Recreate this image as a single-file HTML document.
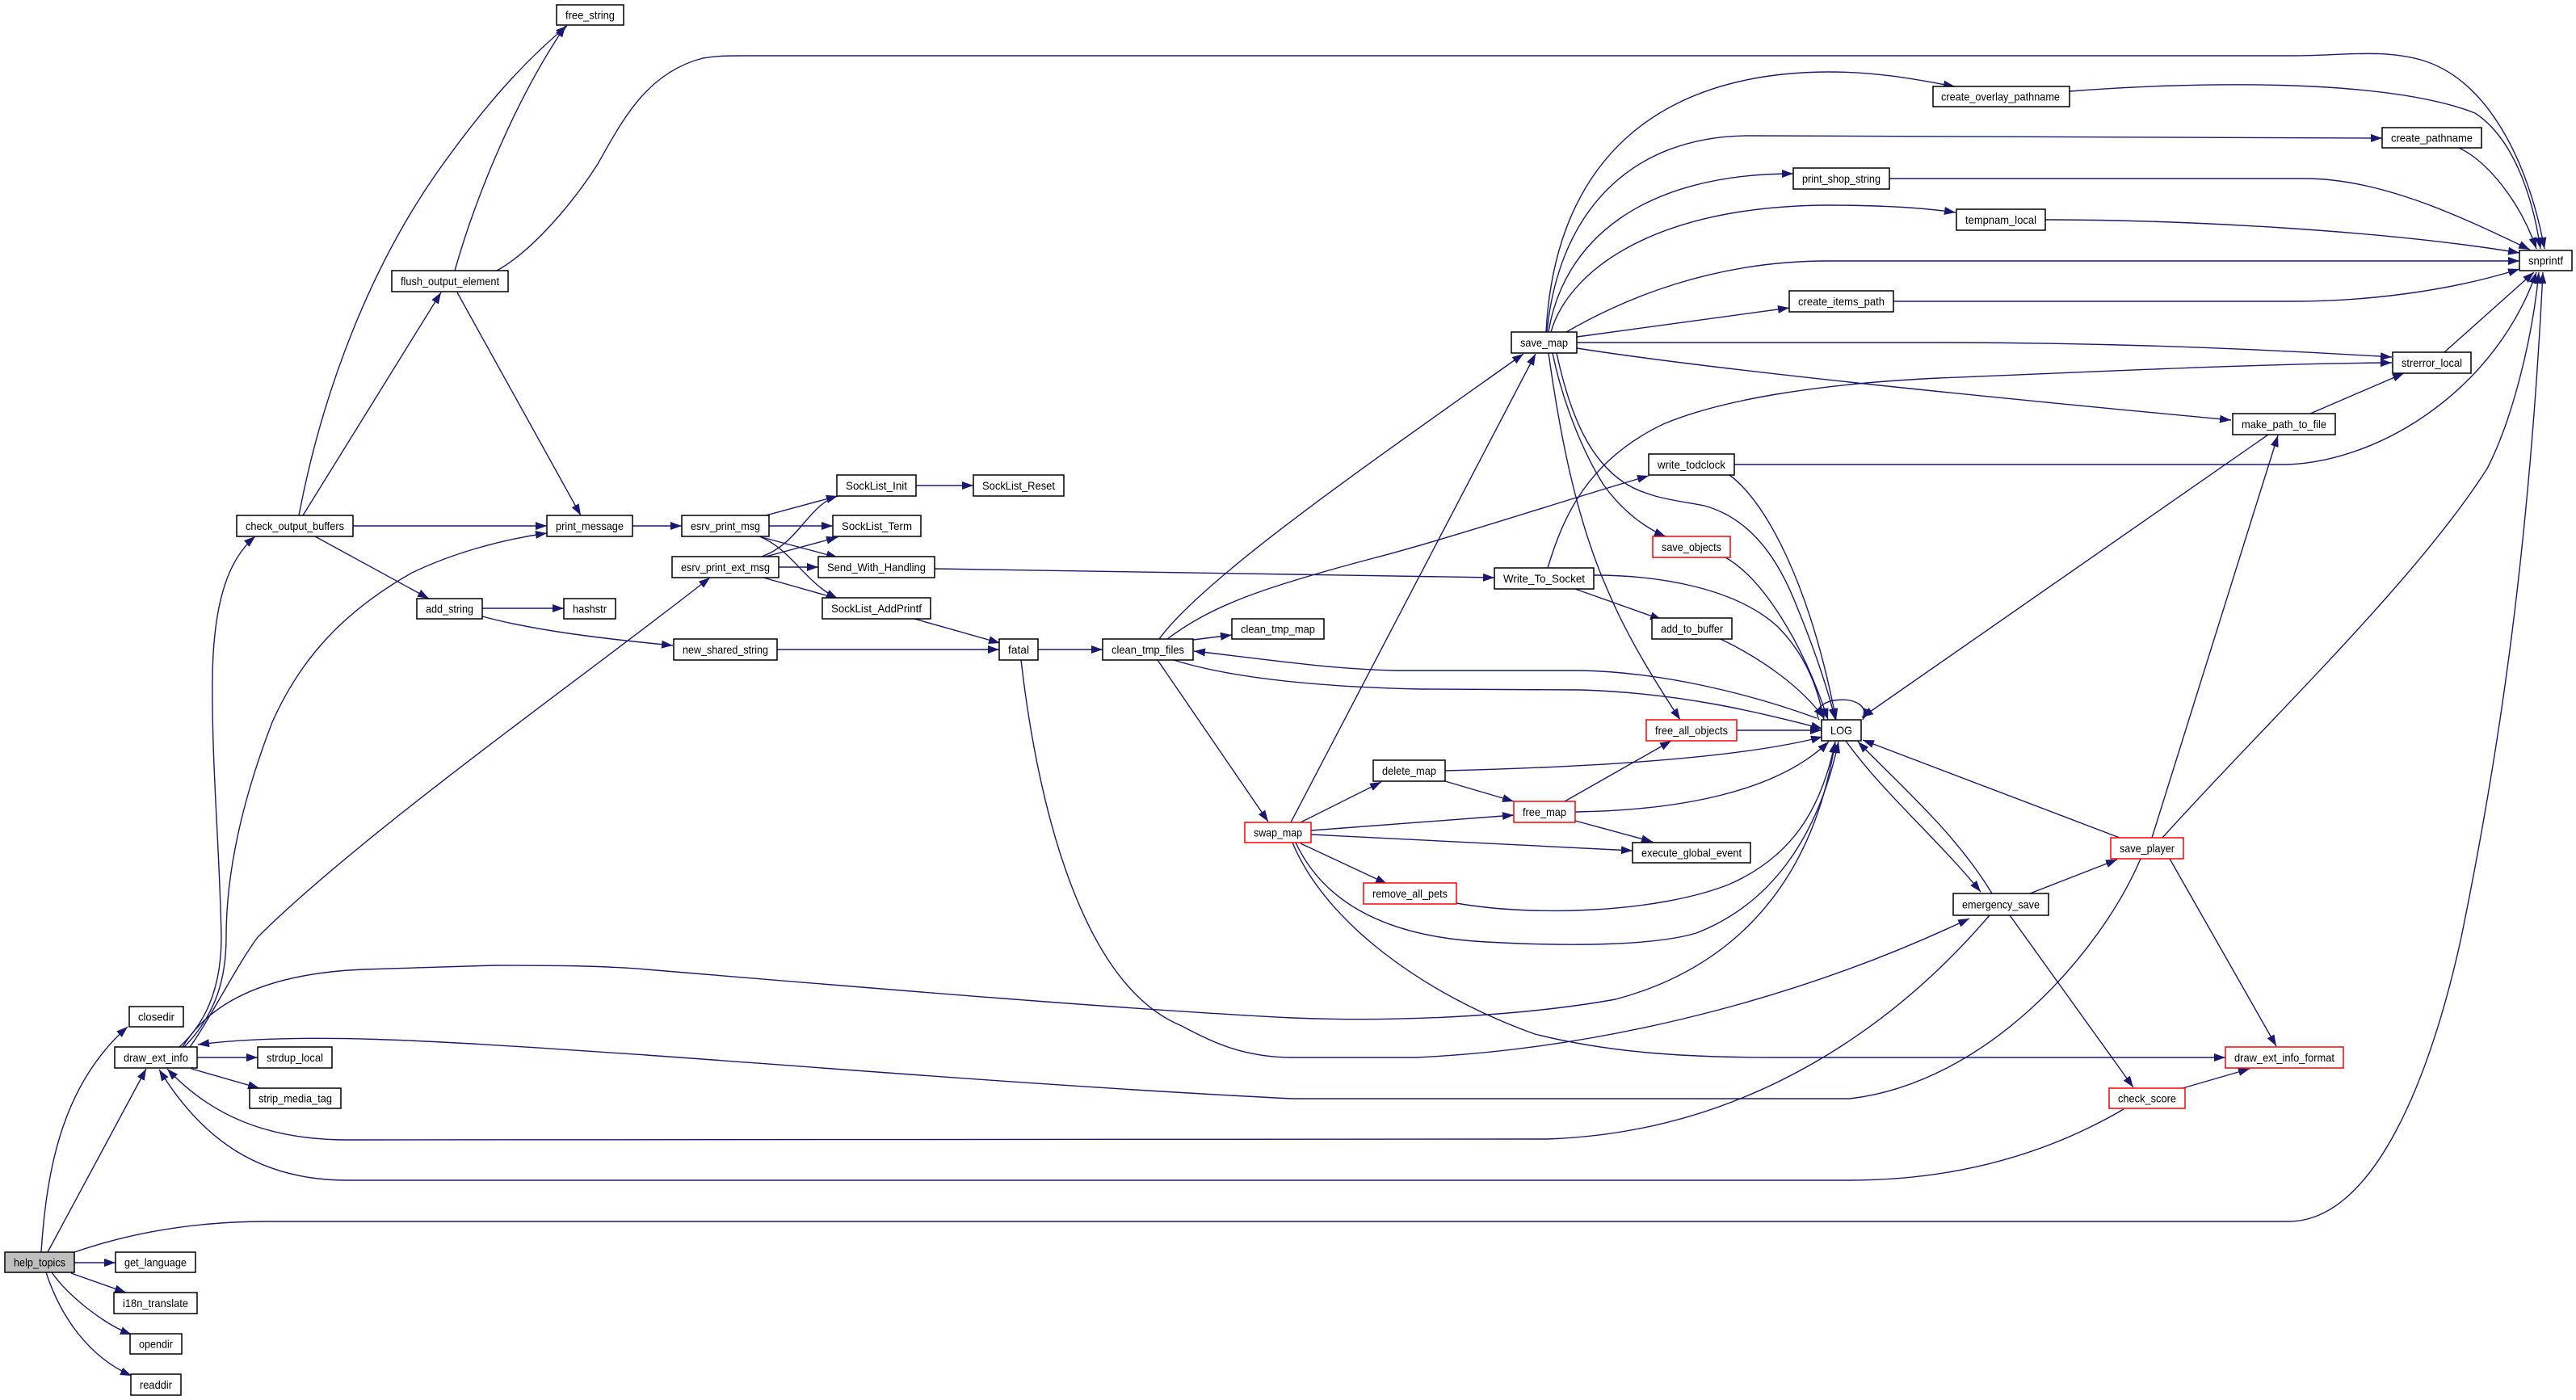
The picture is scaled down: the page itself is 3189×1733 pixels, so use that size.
<!DOCTYPE html>
<html><head><meta charset="utf-8"><style>
html,body{margin:0;padding:0;background:#fff;}
svg{display:block;}
.e{fill:none;stroke:#191970;stroke-width:1.4;marker-end:url(#a);}
.n rect{fill:#fff;stroke:#000;stroke-width:1.5;}
.n.r rect{stroke:#ff0000;}
.n text{font-family:"Liberation Sans",Arial,sans-serif;font-size:14px;fill:#000;}
</style></head><body>
<svg width="3189" height="1733" viewBox="0 0 3189 1733" xmlns="http://www.w3.org/2000/svg">
<defs><marker id="a" markerUnits="userSpaceOnUse" markerWidth="16" markerHeight="12" refX="14" refY="5" orient="auto"><path d="M0,0 L14,5 L0,10 Z" fill="#191970"/></marker></defs>
<g>
<path class="e" d="M51,1550 C58,1440 80,1340 158,1271"/>
<path class="e" d="M59,1550 L181,1323"/>
<path class="e" d="M92,1563 L143,1563"/>
<path class="e" d="M88,1576 L156,1600"/>
<path class="e" d="M64,1575 C85,1605 130,1640 163,1652"/>
<path class="e" d="M57,1575 C75,1630 110,1680 163,1703"/>
<path class="e" d="M92,1550 C150,1530 230,1512 330,1512 L2833,1512 C2940,1512 3010,1330 3047,1160 C3090,950 3130,700 3148,337"/>
<path class="e" d="M244,1309 L319,1309"/>
<path class="e" d="M237,1323 L321,1347"/>
<path class="e" d="M222,1296 C262,1260 274,1210 274,1160 C272,1050 262,950 263,840 C264,740 285,690 316,664"/>
<path class="e" d="M228,1296 C268,1255 280,1210 280,1160 C280,1080 300,990 337,894 C370,820 420,760 510,709 C560,685 620,668 677,660"/>
<path class="e" d="M235,1296 C258,1265 290,1200 319,1160 C450,1030 720,840 879,715"/>
<path class="e" d="M226,1296 C260,1240 330,1205 450,1200 L612,1195 C680,1195 740,1195 800,1200 C1100,1225 1400,1250 1600,1260 C1750,1266 1900,1255 2000,1237 C2120,1205 2240,1120 2272,918"/>
<path class="e" d="M2650,1063 C2600,1180 2460,1340 2290,1360 L1600,1360 C1300,1345 1000,1320 800,1306 C560,1290 380,1276 245,1293"/>
<path class="e" d="M2463,1133 C2380,1230 2200,1400 1916,1410 L430,1411 C330,1411 260,1380 207,1323"/>
<path class="e" d="M2629,1373 C2540,1425 2430,1461 2289,1461 L430,1461 C320,1461 250,1410 197,1324"/>
<path class="e" d="M2488,1133 L2641,1346"/>
<path class="e" d="M2513,1106 L2621,1064"/>
<path class="e" d="M2285,917 C2330,980 2400,1040 2452,1104"/>
<path class="e" d="M2466,1106 C2420,1030 2350,970 2300,918"/>
<path class="e" d="M2624,1037 L2306,916"/>
<path class="e" d="M2664,1037 L2820,539"/>
<path class="e" d="M2677,1037 C2800,900 2990,720 3079,580 C3110,520 3135,420 3143,337"/>
<path class="e" d="M2686,1063 L2818,1295"/>
<path class="e" d="M2702,1347 L2785,1323"/>
<path class="e" d="M1600,1043 C1640,1140 1760,1230 1900,1280 C2000,1305 2100,1309 2200,1309 L2755,1309"/>
<path class="e" d="M1264,817 C1285,1000 1340,1220 1463,1270 C1500,1290 1540,1309 1600,1309 L1753,1309 C1950,1300 2200,1250 2438,1137"/>
<path class="e" d="M1604,1043 C1640,1120 1720,1160 1840,1166 C1950,1172 2050,1170 2100,1155 C2190,1120 2250,1040 2276,918"/>
<path class="e" d="M1803,1118 C1900,1135 2050,1130 2140,1095 C2220,1060 2255,1000 2272,918"/>
<path class="e" d="M1950,1005 C2080,1003 2200,980 2264,918"/>
<path class="e" d="M1789,954 C1950,950 2150,940 2256,912"/>
<path class="e" d="M2150,904 L2255,904"/>
<path class="e" d="M1453,817 C1520,838 1620,850 1760,853 L1957,854 C2080,858 2170,880 2256,902"/>
<path class="e" d="M2249,889 C2170,860 2060,832 1957,830 L1728,830 C1640,828 1560,815 1478,806"/>
<path class="e" d="M2252,891 C2235,860 2322,856 2306,891"/>
<path class="e" d="M1927,437 C1945,520 1970,570 2010,597 C2040,617 2080,620 2110,626 C2160,640 2195,680 2220,740 C2245,800 2262,850 2272,891"/>
<path class="e" d="M1917,437 C1930,530 1950,640 1990,730 C2015,790 2050,845 2080,891"/>
<path class="e" d="M1922,437 C1935,500 1960,560 1985,600 C2010,635 2040,655 2062,664"/>
<path class="e" d="M1916,703 C1935,640 1965,570 2059,525 C2130,495 2250,475 2400,468 C2600,460 2800,450 2961,449"/>
<path class="e" d="M1950,729 L2057,767"/>
<path class="e" d="M1973,712 C2060,712 2150,730 2200,775 C2235,810 2250,850 2258,891"/>
<path class="e" d="M2130,791 C2180,815 2230,850 2258,889"/>
<path class="e" d="M2136,690 C2180,715 2230,790 2263,891"/>
<path class="e" d="M2141,588 C2185,620 2240,720 2273,891"/>
<path class="e" d="M2147,575 L2833,575 C2950,570 3090,480 3140,337"/>
<path class="e" d="M2808,538 L2305,888"/>
<path class="e" d="M2860,512 L2976,462"/>
<path class="e" d="M3026,436 L3137,337"/>
<path class="e" d="M1952,431 C2150,462 2550,500 2762,520"/>
<path class="e" d="M1952,424 L2400,424 C2600,424 2800,432 2961,442"/>
<path class="e" d="M1952,417 L2215,381"/>
<path class="e" d="M1939,411 C2010,370 2120,323 2263,323 L3119,323"/>
<path class="e" d="M1920,411 C1940,340 2040,255 2263,254 C2330,254 2380,257 2421,263"/>
<path class="e" d="M1917,411 C1935,300 2030,215 2220,215"/>
<path class="e" d="M1915,411 C1930,260 2020,170 2161,168 L2949,171"/>
<path class="e" d="M1914,411 C1925,200 2050,90 2263,89 C2330,89 2380,100 2420,107"/>
<path class="e" d="M2562,113 C2700,102 2950,95 3064,140 C3110,170 3135,240 3145,308"/>
<path class="e" d="M3044,183 C3080,200 3120,250 3140,308"/>
<path class="e" d="M2339,221 L2853,221 C2950,221 3050,270 3132,309"/>
<path class="e" d="M2532,272 C2700,272 2950,285 3119,313"/>
<path class="e" d="M2344,373 L2838,373 C2950,373 3050,355 3119,333"/>
<path class="e" d="M615,335 C660,310 710,250 740,203 C770,150 800,90 870,72 C890,69 900,69 920,69 L2838,69 C2900,69 2950,60 3000,75 C3080,100 3130,200 3150,308"/>
<path class="e" d="M370,638 C400,480 460,330 540,215 C600,130 650,75 702,32"/>
<path class="e" d="M375,638 L546,362"/>
<path class="e" d="M563,335 C590,240 640,120 700,32"/>
<path class="e" d="M566,362 L719,638"/>
<path class="e" d="M437,651 L677,651"/>
<path class="e" d="M390,664 L531,741"/>
<path class="e" d="M597,753 L698,753"/>
<path class="e" d="M597,763 C660,780 740,790 833,799"/>
<path class="e" d="M783,651 L844,651"/>
<path class="e" d="M948,638 L1037,614"/>
<path class="e" d="M952,651 L1031,651"/>
<path class="e" d="M943,665 L1037,690"/>
<path class="e" d="M940,664 C980,680 995,720 1037,741"/>
<path class="e" d="M943,689 C990,672 1000,625 1037,614"/>
<path class="e" d="M948,689 L1037,665"/>
<path class="e" d="M964,702 L1013,702"/>
<path class="e" d="M945,715 L1037,741"/>
<path class="e" d="M1134,601 L1205,601"/>
<path class="e" d="M1132,766 L1238,796"/>
<path class="e" d="M962,804 L1237,804"/>
<path class="e" d="M1157,704 L1600,711 L1850,715"/>
<path class="e" d="M1285,804 L1365,804"/>
<path class="e" d="M1477,792 L1525,786"/>
<path class="e" d="M1435,791 C1490,715 1700,570 1886,438"/>
<path class="e" d="M1445,791 C1500,750 1560,728 1700,691 C1800,665 1950,615 2041,589"/>
<path class="e" d="M1433,817 L1570,1017"/>
<path class="e" d="M1598,1018 L1901,438"/>
<path class="e" d="M1610,1018 L1710,968"/>
<path class="e" d="M1623,1028 L1874,1009"/>
<path class="e" d="M1623,1033 L2021,1053"/>
<path class="e" d="M1610,1044 L1717,1094"/>
<path class="e" d="M1789,967 L1874,992"/>
<path class="e" d="M1937,992 L2069,917"/>
<path class="e" d="M1950,1016 L2046,1042"/>
</g>
<g class="n"><rect x="6" y="1550" width="86" height="25" style="fill:#bfbfbf"/><text x="17" y="1567.5" textLength="64" lengthAdjust="spacingAndGlyphs">help_topics</text></g>
<g class="n"><rect x="160" y="1246" width="67" height="25"/><text x="171" y="1263.5" textLength="45" lengthAdjust="spacingAndGlyphs">closedir</text></g>
<g class="n"><rect x="142" y="1296" width="102" height="26"/><text x="153" y="1314" textLength="80" lengthAdjust="spacingAndGlyphs">draw_ext_info</text></g>
<g class="n"><rect x="143" y="1550" width="99" height="25"/><text x="154" y="1567.5" textLength="77" lengthAdjust="spacingAndGlyphs">get_language</text></g>
<g class="n"><rect x="141" y="1600" width="103" height="26"/><text x="152" y="1618" textLength="81" lengthAdjust="spacingAndGlyphs">i18n_translate</text></g>
<g class="n"><rect x="161" y="1651" width="64" height="25"/><text x="172" y="1668.5" textLength="42" lengthAdjust="spacingAndGlyphs">opendir</text></g>
<g class="n"><rect x="162" y="1701" width="62" height="26"/><text x="173" y="1719" textLength="40" lengthAdjust="spacingAndGlyphs">readdir</text></g>
<g class="n"><rect x="319" y="1296" width="92" height="26"/><text x="330" y="1314" textLength="70" lengthAdjust="spacingAndGlyphs">strdup_local</text></g>
<g class="n"><rect x="309" y="1347" width="113" height="25"/><text x="320" y="1364.5" textLength="91" lengthAdjust="spacingAndGlyphs">strip_media_tag</text></g>
<g class="n"><rect x="293" y="638" width="144" height="26"/><text x="304" y="656" textLength="122" lengthAdjust="spacingAndGlyphs">check_output_buffers</text></g>
<g class="n"><rect x="689" y="6" width="83" height="25"/><text x="700" y="23.5" textLength="61" lengthAdjust="spacingAndGlyphs">free_string</text></g>
<g class="n"><rect x="485" y="335" width="144" height="26"/><text x="496" y="353" textLength="122" lengthAdjust="spacingAndGlyphs">flush_output_element</text></g>
<g class="n"><rect x="677" y="638" width="106" height="26"/><text x="688" y="656" textLength="84" lengthAdjust="spacingAndGlyphs">print_message</text></g>
<g class="n"><rect x="516" y="741" width="81" height="25"/><text x="527" y="758.5" textLength="59" lengthAdjust="spacingAndGlyphs">add_string</text></g>
<g class="n"><rect x="698" y="741" width="64" height="25"/><text x="709" y="758.5" textLength="42" lengthAdjust="spacingAndGlyphs">hashstr</text></g>
<g class="n"><rect x="844" y="638" width="108" height="26"/><text x="855" y="656" textLength="86" lengthAdjust="spacingAndGlyphs">esrv_print_msg</text></g>
<g class="n"><rect x="832" y="689" width="132" height="26"/><text x="843" y="707" textLength="110" lengthAdjust="spacingAndGlyphs">esrv_print_ext_msg</text></g>
<g class="n"><rect x="834" y="791" width="128" height="26"/><text x="845" y="809" textLength="106" lengthAdjust="spacingAndGlyphs">new_shared_string</text></g>
<g class="n"><rect x="1036" y="588" width="98" height="26"/><text x="1047" y="606" textLength="76" lengthAdjust="spacingAndGlyphs">SockList_Init</text></g>
<g class="n"><rect x="1205" y="588" width="112" height="26"/><text x="1216" y="606" textLength="90" lengthAdjust="spacingAndGlyphs">SockList_Reset</text></g>
<g class="n"><rect x="1031" y="638" width="109" height="26"/><text x="1042" y="656" textLength="87" lengthAdjust="spacingAndGlyphs">SockList_Term</text></g>
<g class="n"><rect x="1013" y="689" width="144" height="26"/><text x="1024" y="707" textLength="122" lengthAdjust="spacingAndGlyphs">Send_With_Handling</text></g>
<g class="n"><rect x="1018" y="740" width="134" height="26"/><text x="1029" y="758" textLength="112" lengthAdjust="spacingAndGlyphs">SockList_AddPrintf</text></g>
<g class="n"><rect x="1237" y="791" width="48" height="26"/><text x="1248" y="809" textLength="26" lengthAdjust="spacingAndGlyphs">fatal</text></g>
<g class="n"><rect x="1365" y="791" width="112" height="26"/><text x="1376" y="809" textLength="90" lengthAdjust="spacingAndGlyphs">clean_tmp_files</text></g>
<g class="n"><rect x="1525" y="766" width="114" height="25"/><text x="1536" y="783.5" textLength="92" lengthAdjust="spacingAndGlyphs">clean_tmp_map</text></g>
<g class="n r"><rect x="1541" y="1018" width="82" height="25"/><text x="1552" y="1035.5" textLength="60" lengthAdjust="spacingAndGlyphs">swap_map</text></g>
<g class="n"><rect x="1871" y="411" width="81" height="26"/><text x="1882" y="429" textLength="59" lengthAdjust="spacingAndGlyphs">save_map</text></g>
<g class="n"><rect x="1850" y="703" width="123" height="26"/><text x="1861" y="721" textLength="101" lengthAdjust="spacingAndGlyphs">Write_To_Socket</text></g>
<g class="n"><rect x="1700" y="941" width="89" height="26"/><text x="1711" y="959" textLength="67" lengthAdjust="spacingAndGlyphs">delete_map</text></g>
<g class="n r"><rect x="1874" y="992" width="76" height="26"/><text x="1885" y="1010" textLength="54" lengthAdjust="spacingAndGlyphs">free_map</text></g>
<g class="n r"><rect x="1688" y="1093" width="115" height="26"/><text x="1699" y="1111" textLength="93" lengthAdjust="spacingAndGlyphs">remove_all_pets</text></g>
<g class="n"><rect x="2041" y="562" width="106" height="26"/><text x="2052" y="580" textLength="84" lengthAdjust="spacingAndGlyphs">write_todclock</text></g>
<g class="n r"><rect x="2046" y="664" width="96" height="26"/><text x="2057" y="682" textLength="74" lengthAdjust="spacingAndGlyphs">save_objects</text></g>
<g class="n"><rect x="2045" y="765" width="99" height="26"/><text x="2056" y="783" textLength="77" lengthAdjust="spacingAndGlyphs">add_to_buffer</text></g>
<g class="n r"><rect x="2038" y="891" width="112" height="26"/><text x="2049" y="909" textLength="90" lengthAdjust="spacingAndGlyphs">free_all_objects</text></g>
<g class="n"><rect x="2021" y="1043" width="146" height="25"/><text x="2032" y="1060.5" textLength="124" lengthAdjust="spacingAndGlyphs">execute_global_event</text></g>
<g class="n"><rect x="2255" y="891" width="49" height="26"/><text x="2266" y="909" textLength="27" lengthAdjust="spacingAndGlyphs">LOG</text></g>
<g class="n"><rect x="2418" y="1106" width="118" height="27"/><text x="2429" y="1124.5" textLength="96" lengthAdjust="spacingAndGlyphs">emergency_save</text></g>
<g class="n r"><rect x="2613" y="1037" width="90" height="26"/><text x="2624" y="1055" textLength="68" lengthAdjust="spacingAndGlyphs">save_player</text></g>
<g class="n r"><rect x="2611" y="1347" width="94" height="25"/><text x="2622" y="1364.5" textLength="72" lengthAdjust="spacingAndGlyphs">check_score</text></g>
<g class="n r"><rect x="2755" y="1296" width="146" height="26"/><text x="2766" y="1314" textLength="124" lengthAdjust="spacingAndGlyphs">draw_ext_info_format</text></g>
<g class="n"><rect x="2393" y="107" width="169" height="25"/><text x="2403" y="124.5" textLength="147" lengthAdjust="spacingAndGlyphs">create_overlay_pathname</text></g>
<g class="n"><rect x="2220" y="208" width="119" height="26"/><text x="2231" y="226" textLength="97" lengthAdjust="spacingAndGlyphs">print_shop_string</text></g>
<g class="n"><rect x="2215" y="360" width="129" height="26"/><text x="2226" y="378" textLength="107" lengthAdjust="spacingAndGlyphs">create_items_path</text></g>
<g class="n"><rect x="2949" y="158" width="123" height="25"/><text x="2960" y="175.5" textLength="101" lengthAdjust="spacingAndGlyphs">create_pathname</text></g>
<g class="n"><rect x="2422" y="259" width="110" height="26"/><text x="2433" y="277" textLength="88" lengthAdjust="spacingAndGlyphs">tempnam_local</text></g>
<g class="n"><rect x="2962" y="436" width="97" height="26"/><text x="2973" y="454" textLength="75" lengthAdjust="spacingAndGlyphs">strerror_local</text></g>
<g class="n"><rect x="2764" y="512" width="127" height="26"/><text x="2775" y="530" textLength="105" lengthAdjust="spacingAndGlyphs">make_path_to_file</text></g>
<g class="n"><rect x="3119" y="310" width="65" height="25"/><text x="3130" y="327.5" textLength="43" lengthAdjust="spacingAndGlyphs">snprintf</text></g>
</svg>
</body></html>
